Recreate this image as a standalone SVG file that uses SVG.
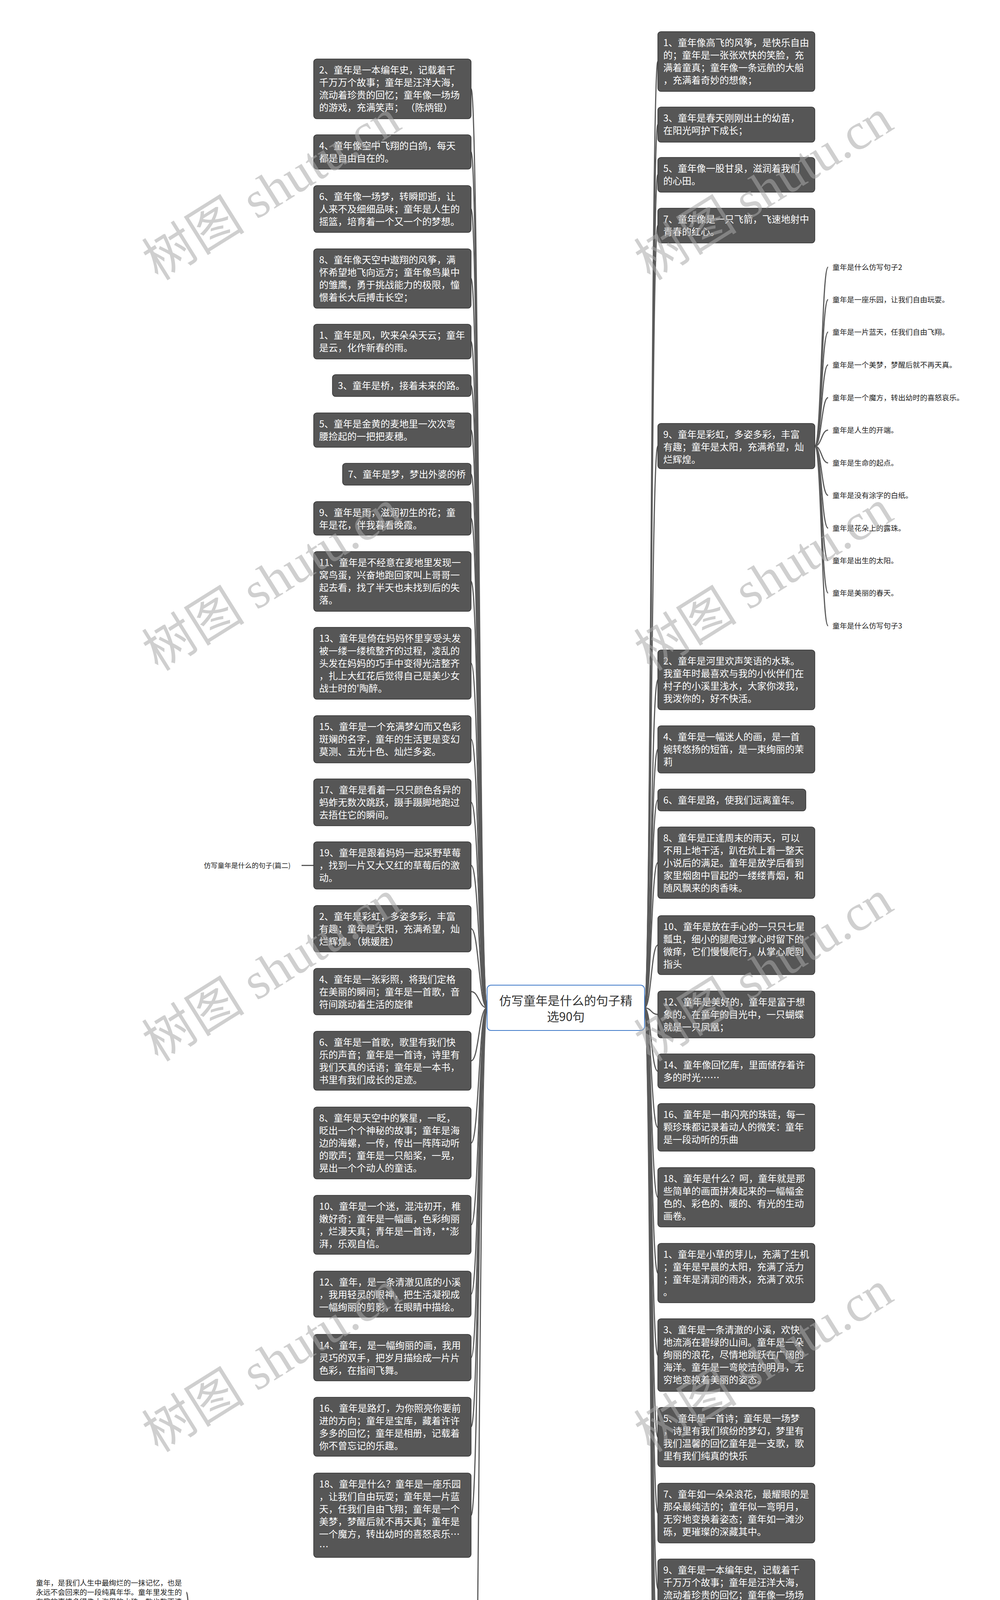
<svg xmlns="http://www.w3.org/2000/svg" width="2560" height="5919" viewBox="0 0 2560 5919">
<style>
.bg{fill:#ffffff}
.n{fill:#565656;stroke:#2f2f2f;stroke-width:1.5}
.t{font-family:"Noto Sans CJK SC","Liberation Sans",sans-serif;font-size:24px;fill:#ffffff}
.s{font-family:"Noto Sans CJK SC","Liberation Sans",sans-serif;font-size:18.7px;fill:#222222}
.lb{font-family:"Noto Sans CJK SC","Liberation Sans",sans-serif;font-size:17.5px;fill:#222222}
.c{fill:none;stroke:#5a5a5a;stroke-width:3}
.ct{font-family:"Noto Sans CJK SC","Liberation Sans",sans-serif;font-size:31px;fill:#333333;text-anchor:middle}
.w{font-family:"Liberation Serif","Noto Sans CJK SC",serif;font-size:132px;fill:#a8a8a8;opacity:0.55}
</style>
<rect class="bg" x="0" y="0" width="2560" height="5919"/>

<g id="connectors">
<!-- center to left nodes -->
<path class="c" d="M1247 2580 C1226 2580 1226 227.5 1206 227.5"/>
<path class="c" d="M1247 2580 C1226 2580 1226 389 1206 389"/>
<path class="c" d="M1247 2580 C1226 2580 1226 535 1206 535"/>
<path class="c" d="M1247 2580 C1226 2580 1226 713 1206 713"/>
<path class="c" d="M1247 2580 C1226 2580 1226 874.5 1206 874.5"/>
<path class="c" d="M1247 2580 C1226 2580 1226 987 1206 987"/>
<path class="c" d="M1247 2580 C1226 2580 1226 1101 1206 1101"/>
<path class="c" d="M1247 2580 C1226 2580 1226 1214 1206 1214"/>
<path class="c" d="M1247 2580 C1226 2580 1226 1327 1206 1327"/>
<path class="c" d="M1247 2580 C1226 2580 1226 1488.5 1206 1488.5"/>
<path class="c" d="M1247 2580 C1226 2580 1226 1698 1206 1698"/>
<path class="c" d="M1247 2580 C1226 2580 1226 1892.5 1206 1892.5"/>
<path class="c" d="M1247 2580 C1226 2580 1226 2054 1206 2054"/>
<path class="c" d="M1247 2580 C1226 2580 1226 2215.5 1206 2215.5"/>
<path class="c" d="M1247 2580 C1226 2580 1226 2377.5 1206 2377.5"/>
<path class="c" d="M1247 2580 C1226 2580 1226 2538.5 1206 2538.5"/>
<path class="c" d="M1247 2580 C1226 2580 1226 2715.5 1206 2715.5"/>
<path class="c" d="M1247 2580 C1226 2580 1226 2926 1206 2926"/>
<path class="c" d="M1247 2580 C1226 2580 1226 3135.5 1206 3135.5"/>
<path class="c" d="M1247 2580 C1226 2580 1226 3313 1206 3313"/>
<path class="c" d="M1247 2580 C1226 2580 1226 3475.5 1206 3475.5"/>
<path class="c" d="M1247 2580 C1226 2580 1226 3652.5 1206 3652.5"/>
<path class="c" d="M1247 2580 C1226 2580 1226 3879 1206 3879"/>
<path class="c" d="M1247 2580 C1226 2580 1226 4933.5 1206 4933.5"/>
<!-- center to right nodes -->
<path class="c" d="M1650 2580 C1667 2580 1667 157.5 1684 157.5"/>
<path class="c" d="M1650 2580 C1667 2580 1667 319 1684 319"/>
<path class="c" d="M1650 2580 C1667 2580 1667 447.5 1684 447.5"/>
<path class="c" d="M1650 2580 C1667 2580 1667 577.5 1684 577.5"/>
<path class="c" d="M1650 2580 C1667 2580 1667 1142 1684 1142"/>
<path class="c" d="M1650 2580 C1667 2580 1667 1740.5 1684 1740.5"/>
<path class="c" d="M1650 2580 C1667 2580 1667 1918.5 1684 1918.5"/>
<path class="c" d="M1650 2580 C1667 2580 1667 2048 1684 2048"/>
<path class="c" d="M1650 2580 C1667 2580 1667 2208.5 1684 2208.5"/>
<path class="c" d="M1650 2580 C1667 2580 1667 2419.5 1684 2419.5"/>
<path class="c" d="M1650 2580 C1667 2580 1667 2597 1684 2597"/>
<path class="c" d="M1650 2580 C1667 2580 1667 2742 1684 2742"/>
<path class="c" d="M1650 2580 C1667 2580 1667 2886 1684 2886"/>
<path class="c" d="M1650 2580 C1667 2580 1667 3065 1684 3065"/>
<path class="c" d="M1650 2580 C1667 2580 1667 3259 1684 3259"/>
<path class="c" d="M1650 2580 C1667 2580 1667 3469 1684 3469"/>
<path class="c" d="M1650 2580 C1667 2580 1667 3679 1684 3679"/>
<path class="c" d="M1650 2580 C1667 2580 1667 3873.5 1684 3873.5"/>
<path class="c" d="M1650 2580 C1667 2580 1667 4067 1684 4067"/>
<path class="c" d="M1650 2580 C1667 2580 1667 4245 1684 4245"/>
<path class="c" d="M1650 2580 C1667 2580 1667 4422.5 1684 4422.5"/>
<path class="c" d="M1650 2580 C1667 2580 1667 4584.5 1684 4584.5"/>
<path class="c" d="M1650 2580 C1667 2580 1667 4745.5 1684 4745.5"/>
<path class="c" d="M1650 2580 C1667 2580 1667 4970.5 1684 4970.5"/>
<!-- right node 9 to sub items -->
<path class="c" d="M2086 1142 C2103 1142 2103 684 2120 684"/>
<path class="c" d="M2086 1142 C2103 1142 2103 767 2120 767"/>
<path class="c" d="M2086 1142 C2103 1142 2103 850 2120 850"/>
<path class="c" d="M2086 1142 C2103 1142 2103 934 2120 934"/>
<path class="c" d="M2086 1142 C2103 1142 2103 1018 2120 1018"/>
<path class="c" d="M2086 1142 C2103 1142 2103 1101 2120 1101"/>
<path class="c" d="M2086 1142 C2103 1142 2103 1185 2120 1185"/>
<path class="c" d="M2086 1142 C2103 1142 2103 1268 2120 1268"/>
<path class="c" d="M2086 1142 C2103 1142 2103 1352 2120 1352"/>
<path class="c" d="M2086 1142 C2103 1142 2103 1435 2120 1435"/>
<path class="c" d="M2086 1142 C2103 1142 2103 1518 2120 1518"/>
<path class="c" d="M2086 1142 C2103 1142 2103 1602 2120 1602"/>
<!-- labels -->
<path class="c" d="M772 2215.5 L803 2215.5"/>
<path class="c" d="M772 4933.5 L804 4933.5"/>
<!-- label 篇三 to far-left items -->
<path class="c" d="M510 4935 C493 4935 493 4076 477 4076"/>
<path class="c" d="M510 4935 C493 4935 493 4220 477 4220"/>
<path class="c" d="M510 4935 C493 4935 493 4399 477 4399"/>
<path class="c" d="M510 4935 C493 4935 493 4579 477 4579"/>
<path class="c" d="M510 4935 C493 4935 493 4723 477 4723"/>
<path class="c" d="M510 4935 C493 4935 493 4855 477 4855"/>
<path class="c" d="M510 4935 C493 4935 493 4989 477 4989"/>
<path class="c" d="M510 4935 C493 4935 493 5132 477 5132"/>
<path class="c" d="M510 4935 C493 4935 493 5301 477 5301"/>
<path class="c" d="M510 4935 C493 4935 493 5482 477 5482"/>
<path class="c" d="M510 4935 C493 4935 493 5651 477 5651"/>
<path class="c" d="M510 4935 C493 4935 493 5795 477 5795"/>
</g>

<g id="center">
<rect x="1247" y="2522" width="403" height="116" rx="10" fill="#ffffff" stroke="#3d78c8" stroke-width="2"/>
<text class="ct" x="1448.5" y="2573">仿写童年是什么的句子精</text>
<text class="ct" x="1448.5" y="2614">选90句</text>
</g>

<!-- left column -->
<g id="L1"><rect class="n" x="803" y="151" width="403" height="153" rx="8"/>
<text class="t"><tspan x="817" y="188">2、童年是一本编年史，记载着千</tspan><tspan x="817" y="220">千万万个故事；童年是汪洋大海，</tspan><tspan x="817" y="252">流动着珍贵的回忆；童年像一场场</tspan><tspan x="817" y="284">的游戏，充满笑声；  （陈炳锟）</tspan></text></g>
<g id="L2"><rect class="n" x="803" y="345" width="403" height="88" rx="8"/>
<text class="t"><tspan x="817" y="382">4、童年像空中飞翔的白鸽，每天</tspan><tspan x="817" y="414">都是自由自在的。</tspan></text></g>
<g id="L3"><rect class="n" x="803" y="475" width="403" height="120" rx="8"/>
<text class="t"><tspan x="817" y="512">6、童年像一场梦，转瞬即逝，让</tspan><tspan x="817" y="544">人来不及细细品味；童年是人生的</tspan><tspan x="817" y="576">摇篮，培育着一个又一个的梦想。</tspan></text></g>
<g id="L4"><rect class="n" x="803" y="637" width="403" height="152" rx="8"/>
<text class="t"><tspan x="817" y="674">8、童年像天空中遨翔的风筝，满</tspan><tspan x="817" y="706">怀希望地飞向远方；童年像鸟巢中</tspan><tspan x="817" y="738">的雏鹰，勇于挑战能力的极限，憧</tspan><tspan x="817" y="770">憬着长大后搏击长空；</tspan></text></g>
<g id="L5"><rect class="n" x="803" y="830" width="403" height="89" rx="8"/>
<text class="t"><tspan x="817" y="867">1、童年是风，吹来朵朵天云；童年</tspan><tspan x="817" y="899">是云，化作新春的雨。</tspan></text></g>
<g id="L6"><rect class="n" x="851" y="959" width="355" height="56" rx="8"/>
<text class="t"><tspan x="865" y="996">3、童年是桥，接着未来的路。</tspan></text></g>
<g id="L7"><rect class="n" x="803" y="1057" width="403" height="88" rx="8"/>
<text class="t"><tspan x="817" y="1094">5、童年是金黄的麦地里一次次弯</tspan><tspan x="817" y="1126">腰捡起的一把把麦穗。</tspan></text></g>
<g id="L8"><rect class="n" x="877" y="1186" width="329" height="56" rx="8"/>
<text class="t"><tspan x="891" y="1223">7、童年是梦，梦出外婆的桥</tspan></text></g>
<g id="L9"><rect class="n" x="803" y="1284" width="403" height="86" rx="8"/>
<text class="t"><tspan x="817" y="1321">9、童年是雨，滋润初生的花；童</tspan><tspan x="817" y="1353">年是花，伴我暮看晚霞。</tspan></text></g>
<g id="L10"><rect class="n" x="803" y="1412" width="403" height="153" rx="8"/>
<text class="t"><tspan x="817" y="1449">11、童年是不经意在麦地里发现一</tspan><tspan x="817" y="1481">窝鸟蛋，兴奋地跑回家叫上哥哥一</tspan><tspan x="817" y="1513">起去看，找了半天也未找到后的失</tspan><tspan x="817" y="1545">落。</tspan></text></g>
<g id="L11"><rect class="n" x="803" y="1606" width="403" height="184" rx="8"/>
<text class="t"><tspan x="817" y="1643">13、童年是倚在妈妈怀里享受头发</tspan><tspan x="817" y="1675">被一缕一缕梳整齐的过程，凌乱的</tspan><tspan x="817" y="1707">头发在妈妈的巧手中变得光洁整齐</tspan><tspan x="817" y="1739">，扎上大红花后觉得自己是美少女</tspan><tspan x="817" y="1771">战士时的'陶醉。</tspan></text></g>
<g id="L12"><rect class="n" x="803" y="1832" width="403" height="121" rx="8"/>
<text class="t"><tspan x="817" y="1869">15、童年是一个充满梦幻而又色彩</tspan><tspan x="817" y="1901">斑斓的名字，童年的生活更是变幻</tspan><tspan x="817" y="1933">莫测、五光十色、灿烂多姿。</tspan></text></g>
<g id="L13"><rect class="n" x="803" y="1994" width="403" height="120" rx="8"/>
<text class="t"><tspan x="817" y="2031">17、童年是看着一只只颜色各异的</tspan><tspan x="817" y="2063">蚂蚱无数次跳跃，蹑手蹑脚地跑过</tspan><tspan x="817" y="2095">去捂住它的瞬间。</tspan></text></g>
<g id="L14"><rect class="n" x="803" y="2155" width="403" height="121" rx="8"/>
<text class="t"><tspan x="817" y="2192">19、童年是跟着妈妈一起采野草莓</tspan><tspan x="817" y="2224">，找到一片又大又红的草莓后的激</tspan><tspan x="817" y="2256">动。</tspan></text></g>
<g id="L15"><rect class="n" x="803" y="2318" width="403" height="119" rx="8"/>
<text class="t"><tspan x="817" y="2355">2、童年是彩虹，多姿多彩，丰富</tspan><tspan x="817" y="2387">有趣；童年是太阳，充满希望，灿</tspan><tspan x="817" y="2419">烂辉煌。（姚媛胜）</tspan></text></g>
<g id="L16"><rect class="n" x="803" y="2479" width="403" height="119" rx="8"/>
<text class="t"><tspan x="817" y="2516">4、童年是一张彩照，将我们定格</tspan><tspan x="817" y="2548">在美丽的瞬间；童年是一首歌，音</tspan><tspan x="817" y="2580">符间跳动着生活的旋律</tspan></text></g>
<g id="L17"><rect class="n" x="803" y="2640" width="403" height="151" rx="8"/>
<text class="t"><tspan x="817" y="2677">6、童年是一首歌，歌里有我们快</tspan><tspan x="817" y="2709">乐的声音；童年是一首诗，诗里有</tspan><tspan x="817" y="2741">我们天真的话语；童年是一本书，</tspan><tspan x="817" y="2773">书里有我们成长的足迹。</tspan></text></g>
<g id="L18"><rect class="n" x="803" y="2834" width="403" height="184" rx="8"/>
<text class="t"><tspan x="817" y="2871">8、童年是天空中的繁星，一眨，</tspan><tspan x="817" y="2903">眨出一个个神秘的故事；童年是海</tspan><tspan x="817" y="2935">边的海螺，一传，传出一阵阵动听</tspan><tspan x="817" y="2967">的歌声；童年是一只船桨，一晃，</tspan><tspan x="817" y="2999">晃出一个个动人的童话。</tspan></text></g>
<g id="L19"><rect class="n" x="803" y="3060" width="403" height="151" rx="8"/>
<text class="t"><tspan x="817" y="3097">10、童年是一个迷，混沌初开，稚</tspan><tspan x="817" y="3129">嫩好奇；童年是一幅画，色彩绚丽</tspan><tspan x="817" y="3161">，烂漫天真；青年是一首诗，**澎</tspan><tspan x="817" y="3193">湃，乐观自信。</tspan></text></g>
<g id="L20"><rect class="n" x="803" y="3254" width="403" height="118" rx="8"/>
<text class="t"><tspan x="817" y="3291">12、童年，是一条清澈见底的小溪</tspan><tspan x="817" y="3323">，我用轻灵的眼神，把生活凝视成</tspan><tspan x="817" y="3355">一幅绚丽的剪影，在眼睛中描绘。</tspan></text></g>
<g id="L21"><rect class="n" x="803" y="3416" width="403" height="119" rx="8"/>
<text class="t"><tspan x="817" y="3453">14、童年，是一幅绚丽的画，我用</tspan><tspan x="817" y="3485">灵巧的双手，把岁月描绘成一片片</tspan><tspan x="817" y="3517">色彩，在指间飞舞。</tspan></text></g>
<g id="L22"><rect class="n" x="803" y="3577" width="403" height="151" rx="8"/>
<text class="t"><tspan x="817" y="3614">16、童年是路灯，为你照亮你要前</tspan><tspan x="817" y="3646">进的方向；童年是宝库，藏着许许</tspan><tspan x="817" y="3678">多多的回忆；童年是相册，记载着</tspan><tspan x="817" y="3710">你不曾忘记的乐趣。</tspan></text></g>
<g id="L23"><rect class="n" x="803" y="3771" width="403" height="216" rx="8"/>
<text class="t"><tspan x="817" y="3808">18、童年是什么？童年是一座乐园</tspan><tspan x="817" y="3840">，让我们自由玩耍；童年是一片蓝</tspan><tspan x="817" y="3872">天，任我们自由飞翔；童年是一个</tspan><tspan x="817" y="3904">美梦，梦醒后就不再天真；童年是</tspan><tspan x="817" y="3936">一个魔方，转出幼时的喜怒哀乐…</tspan><tspan x="817" y="3968">…</tspan></text></g>
<g id="L24"><rect class="n" x="804" y="4841" width="402" height="185" rx="8"/>
<text class="t"><tspan x="818" y="4878">20、童年是什么？是一支笔，一支</tspan><tspan x="818" y="4910">色彩丰富的笔；是一首歌，一首焕</tspan><tspan x="818" y="4942">发向上的歌；是一股泉，一股清澈</tspan><tspan x="818" y="4974">透亮的泉；童年，更是一朵花，一</tspan><tspan x="818" y="5006">朵多姿多彩的花。</tspan></text></g>

<!-- right column -->
<g id="R1"><rect class="n" x="1684" y="81" width="402" height="153" rx="8"/>
<text class="t"><tspan x="1698" y="118">1、童年像高飞的风筝，是快乐自由</tspan><tspan x="1698" y="150">的；童年是一张张欢快的笑脸，充</tspan><tspan x="1698" y="182">满着童真；童年像一条远航的大船</tspan><tspan x="1698" y="214">，充满着奇妙的想像；</tspan></text></g>
<g id="R2"><rect class="n" x="1684" y="274" width="402" height="90" rx="8"/>
<text class="t"><tspan x="1698" y="311">3、童年是春天刚刚出土的幼苗，</tspan><tspan x="1698" y="343">在阳光呵护下成长；</tspan></text></g>
<g id="R3"><rect class="n" x="1684" y="403" width="402" height="89" rx="8"/>
<text class="t"><tspan x="1698" y="440">5、童年像一股甘泉，滋润着我们</tspan><tspan x="1698" y="472">的心田。</tspan></text></g>
<g id="R4"><rect class="n" x="1684" y="533" width="402" height="89" rx="8"/>
<text class="t"><tspan x="1698" y="570">7、童年像是一只飞箭，飞速地射中</tspan><tspan x="1698" y="602">青春的红心。</tspan></text></g>
<g id="R5"><rect class="n" x="1684" y="1084" width="402" height="116" rx="8"/>
<text class="t"><tspan x="1698" y="1121">9、童年是彩虹，多姿多彩，丰富</tspan><tspan x="1698" y="1153">有趣；童年是太阳，充满希望，灿</tspan><tspan x="1698" y="1185">烂辉煌。</tspan></text></g>
<g id="R6"><rect class="n" x="1684" y="1664" width="402" height="153" rx="8"/>
<text class="t"><tspan x="1698" y="1701">2、童年是河里欢声笑语的水珠。</tspan><tspan x="1698" y="1733">我童年时最喜欢与我的小伙伴们在</tspan><tspan x="1698" y="1765">村子的小溪里浅水，大家你泼我，</tspan><tspan x="1698" y="1797">我泼你的，好不快活。</tspan></text></g>
<g id="R7"><rect class="n" x="1684" y="1858" width="402" height="121" rx="8"/>
<text class="t"><tspan x="1698" y="1895">4、童年是一幅迷人的画，是一首</tspan><tspan x="1698" y="1927">婉转悠扬的短笛，是一束绚丽的茉</tspan><tspan x="1698" y="1959">莉</tspan></text></g>
<g id="R8"><rect class="n" x="1684" y="2020" width="379" height="56" rx="8"/>
<text class="t"><tspan x="1698" y="2057">6、童年是路，使我们远离童年。</tspan></text></g>
<g id="R9"><rect class="n" x="1684" y="2117" width="402" height="183" rx="8"/>
<text class="t"><tspan x="1698" y="2154">8、童年是正逢周末的雨天，可以</tspan><tspan x="1698" y="2186">不用上地干活，趴在炕上看一整天</tspan><tspan x="1698" y="2218">小说后的满足。童年是放学后看到</tspan><tspan x="1698" y="2250">家里烟囱中冒起的一缕缕青烟，和</tspan><tspan x="1698" y="2282">随风飘来的肉香味。</tspan></text></g>
<g id="R10"><rect class="n" x="1684" y="2344" width="402" height="151" rx="8"/>
<text class="t"><tspan x="1698" y="2381">10、童年是放在手心的一只只七星</tspan><tspan x="1698" y="2413">瓢虫，细小的腿爬过掌心时留下的</tspan><tspan x="1698" y="2445">微痒，它们慢慢爬行，从掌心爬到</tspan><tspan x="1698" y="2477">指头</tspan></text></g>
<g id="R11"><rect class="n" x="1684" y="2537" width="402" height="120" rx="8"/>
<text class="t"><tspan x="1698" y="2574">12、童年是美好的，童年是富于想</tspan><tspan x="1698" y="2606">象的。在童年的目光中，一只蝴蝶</tspan><tspan x="1698" y="2638">就是一只凤凰；</tspan></text></g>
<g id="R12"><rect class="n" x="1684" y="2698" width="402" height="88" rx="8"/>
<text class="t"><tspan x="1698" y="2735">14、童年像回忆库，里面储存着许</tspan><tspan x="1698" y="2767">多的时光……</tspan></text></g>
<g id="R13"><rect class="n" x="1684" y="2825" width="402" height="122" rx="8"/>
<text class="t"><tspan x="1698" y="2862">16、童年是一串闪亮的珠链，每一</tspan><tspan x="1698" y="2894">颗珍珠都记录着动人的微笑：童年</tspan><tspan x="1698" y="2926">是一段动听的乐曲</tspan></text></g>
<g id="R14"><rect class="n" x="1684" y="2989" width="402" height="152" rx="8"/>
<text class="t"><tspan x="1698" y="3026">18、童年是什么？呵，童年就是那</tspan><tspan x="1698" y="3058">些简单的画面拼凑起来的一幅幅金</tspan><tspan x="1698" y="3090">色的、彩色的、暖的、有光的生动</tspan><tspan x="1698" y="3122">画卷。</tspan></text></g>
<g id="R15"><rect class="n" x="1684" y="3183" width="402" height="152" rx="8"/>
<text class="t"><tspan x="1698" y="3220">1、童年是小草的芽儿，充满了生机</tspan><tspan x="1698" y="3252">；童年是早晨的太阳，充满了活力</tspan><tspan x="1698" y="3284">；童年是清润的雨水，充满了欢乐</tspan><tspan x="1698" y="3316">。</tspan></text></g>
<g id="R16"><rect class="n" x="1684" y="3376" width="402" height="186" rx="8"/>
<text class="t"><tspan x="1698" y="3413">3、童年是一条清澈的小溪，欢快</tspan><tspan x="1698" y="3445">地流淌在碧绿的山间。童年是一朵</tspan><tspan x="1698" y="3477">绚丽的浪花，尽情地跳跃在广阔的</tspan><tspan x="1698" y="3509">海洋。童年是一弯皎洁的明月，无</tspan><tspan x="1698" y="3541">穷地变换着美丽的姿态。</tspan></text></g>
<g id="R17"><rect class="n" x="1684" y="3603" width="402" height="152" rx="8"/>
<text class="t"><tspan x="1698" y="3640">5、童年是一首诗；童年是一场梦</tspan><tspan x="1698" y="3672">，诗里有我们缤纷的梦幻，梦里有</tspan><tspan x="1698" y="3704">我们温馨的回忆童年是一支歌，歌</tspan><tspan x="1698" y="3736">里有我们纯真的快乐</tspan></text></g>
<g id="R18"><rect class="n" x="1684" y="3797" width="402" height="153" rx="8"/>
<text class="t"><tspan x="1698" y="3834">7、童年如一朵朵浪花，最耀眼的是</tspan><tspan x="1698" y="3866">那朵最纯洁的；童年似一弯明月，</tspan><tspan x="1698" y="3898">无穷地变换着姿态；童年如一滩沙</tspan><tspan x="1698" y="3930">砾，更璀璨的深藏其中。</tspan></text></g>
<g id="R19"><rect class="n" x="1684" y="3991" width="402" height="152" rx="8"/>
<text class="t"><tspan x="1698" y="4028">9、童年是一本编年史，记载着千</tspan><tspan x="1698" y="4060">千万万个故事；童年是汪洋大海，</tspan><tspan x="1698" y="4092">流动着珍贵的回忆；童年像一场场</tspan><tspan x="1698" y="4124">的游戏，充满笑声；  （陈炳锟）</tspan></text></g>
<g id="R20"><rect class="n" x="1684" y="4185" width="402" height="120" rx="8"/>
<text class="t"><tspan x="1698" y="4222">11、童年，是一首清新的歌，我用</tspan><tspan x="1698" y="4254">稚嫩的双手，把日子谱写成一串串</tspan><tspan x="1698" y="4286">音符，在指间跳跃。</tspan></text></g>
<g id="R21"><rect class="n" x="1684" y="4346" width="402" height="153" rx="8"/>
<text class="t"><tspan x="1698" y="4383">13、童年是记忆深处的一颗火种，</tspan><tspan x="1698" y="4415">童年是人生初始的一段阳光，童年</tspan><tspan x="1698" y="4447">是小巷深处的一首歌谣，童年是高</tspan><tspan x="1698" y="4479">远天空的一只纸鸢。</tspan></text></g>
<g id="R22"><rect class="n" x="1684" y="4540" width="402" height="89" rx="8"/>
<text class="t"><tspan x="1698" y="4577">15、童年像是一只飞箭，飞速地射</tspan><tspan x="1698" y="4609">中青春的红心。（郭思雨）</tspan></text></g>
<g id="R23"><rect class="n" x="1684" y="4669" width="402" height="153" rx="8"/>
<text class="t"><tspan x="1698" y="4706">17、童年是人生的开端，童年是生</tspan><tspan x="1698" y="4738">命的起点，童年是没有涂字的白纸</tspan><tspan x="1698" y="4770">，童年是花朵上的露珠，童年是出</tspan><tspan x="1698" y="4802">生的太阳，童年是美丽的春天。</tspan></text></g>
<g id="R24"><rect class="n" x="1684" y="4862" width="402" height="217" rx="8"/>
<text class="t"><tspan x="1698" y="4899">19、童年是小姑娘发稍的红头绳，</tspan><tspan x="1698" y="4931">童年是小姑娘头上的蝴蝶结，童年</tspan><tspan x="1698" y="4963">是小姑娘手中的牵牛花。童年是小</tspan><tspan x="1698" y="4995">伙子手中的泥娃娃，童年是小伙子</tspan><tspan x="1698" y="5027">心里的保国家，童年是小伙子还能</tspan><tspan x="1698" y="5059">光着小脚丫。</tspan></text></g>

<!-- far right sub items -->
<g id="S1"><text class="s" x="2131" y="691">童年是什么仿写句子2</text></g>
<g id="S2"><text class="s" x="2131" y="774">童年是一座乐园，让我们自由玩耍。</text></g>
<g id="S3"><text class="s" x="2131" y="857">童年是一片蓝天，任我们自由飞翔。</text></g>
<g id="S4"><text class="s" x="2131" y="941">童年是一个美梦，梦醒后就不再天真。</text></g>
<g id="S5"><text class="s" x="2131" y="1025">童年是一个魔方，转出幼时的喜怒哀乐。</text></g>
<g id="S6"><text class="s" x="2131" y="1108">童年是人生的开端。</text></g>
<g id="S7"><text class="s" x="2131" y="1192">童年是生命的起点。</text></g>
<g id="S8"><text class="s" x="2131" y="1275">童年是没有涂字的白纸。</text></g>
<g id="S9"><text class="s" x="2131" y="1359">童年是花朵上的露珠。</text></g>
<g id="S10"><text class="s" x="2131" y="1442">童年是出生的太阳。</text></g>
<g id="S11"><text class="s" x="2131" y="1525">童年是美丽的春天。</text></g>
<g id="S12"><text class="s" x="2131" y="1609">童年是什么仿写句子3</text></g>

<!-- labels -->
<g id="P2"><text class="lb" x="522" y="2221.5">仿写童年是什么的句子(篇二)</text></g>
<g id="P3"><text class="lb" x="522" y="4940">仿写童年是什么的句子(篇三)</text></g>

<!-- far left items -->
<g id="F1"><text class="s"><tspan x="92" y="4059">童年，是我们人生中最绚烂的一抹记忆，也是</tspan><tspan x="92" y="4083">永远不会回来的一段纯真年华。童年里发生的</tspan><tspan x="92" y="4107">有趣的事情多得像大海里的水珠，数也数不清</tspan></text></g>
<g id="F2"><text class="s"><tspan x="92" y="4191">童年，是春风中的一朵漂亮的小花，童年，是</tspan><tspan x="92" y="4215">银河中的一颗灿烂的星光。多少往事，回忆起</tspan><tspan x="92" y="4239">来更是觉得是那么的甜蜜，是那么的温馨。我</tspan><tspan x="92" y="4263">的童年就是在欢乐和幸福中度过的。</tspan></text></g>
<g id="F3"><text class="s"><tspan x="92" y="4346">童年，是一幅迷人的画，勾勒出我多少五颜六</tspan><tspan x="92" y="4370">色的故事;童年，是一支婉转悠扬地短笛，奏</tspan><tspan x="92" y="4394">出我多少美好幻想;童年，是一束绚丽的茉莉</tspan><tspan x="92" y="4418">，儿时的欢笑像茉莉般散发醉人的香味，朵朵</tspan><tspan x="92" y="4442">洁白的花瓣是一件件往事。童年，是难以忘怀</tspan><tspan x="92" y="4466">地，童年的每个瞬间都是精彩的。</tspan></text></g>
<g id="F4"><text class="s"><tspan x="92" y="4550">童年，是一方没有莠草、污秽的净土，是一片</tspan><tspan x="92" y="4574">无遮无拦明朗的天空。这里流淌的纯真与甜美</tspan><tspan x="92" y="4598">，总会使人产生难以忘怀的记忆。我童年的一</tspan><tspan x="92" y="4622">段往事，时常萦绕在我的脑海。</tspan></text></g>
<g id="F5"><text class="s"><tspan x="92" y="4706">童年是多姿多彩的，童年是五光十色的，童年</tspan><tspan x="92" y="4730">像打翻了的五味瓶，酸甜苦辣咸五味聚全。我</tspan><tspan x="92" y="4754">的童年里有一件最令我难忘的事，就是</tspan></text></g>
<g id="F6"><text class="s"><tspan x="92" y="4838">童年是一本书，记录我们的点点滴滴;童年是</tspan><tspan x="92" y="4862">一首歌，唱出我们的酸甜苦辣;童年是一幅画</tspan><tspan x="92" y="4886">，渲染出了我们五彩缤纷的故事。</tspan></text></g>
<g id="F7"><text class="s"><tspan x="92" y="4971">童年是一个宝匣，装着我们无穷无尽的乐事;</tspan><tspan x="92" y="4996">童年是美好的回忆。我的童年是五彩缤纷的，</tspan><tspan x="92" y="5021">在我的童年里流淌着纯真和甜美。</tspan></text></g>
<g id="F8"><text class="s"><tspan x="92" y="5102">童年是甜的，像一盒蜜。在一年级的数学课上</tspan><tspan x="92" y="5127">，老师发给同学们奥数卷，想看看我们的奥数</tspan><tspan x="92" y="5152">能力，当试卷发下来时，我考了91分，老师</tspan><tspan x="92" y="5177">当同学们的面表扬我，心里甜滋滋的。</tspan></text></g>
<g id="F9"><text class="s"><tspan x="92" y="5258">童年是苦的，像一碗中药。无论是放假还是平</tspan><tspan x="92" y="5283">时，父母总让我上各种各样的学习班，学英语</tspan><tspan x="92" y="5308">，学作文，练奥数，我的周末总是这么几样事</tspan><tspan x="92" y="5333">，反反复复，枯燥乏味，单调极了，没有属于</tspan><tspan x="92" y="5358">我自己的天空。</tspan></text></g>
<g id="F10"><text class="s"><tspan x="92" y="5439">童年，是一个缤纷的梦，带着欢歌，带着笑语</tspan><tspan x="92" y="5464">，徜徉在明媚的春天里;童年，是一首动听而</tspan><tspan x="92" y="5489">奔放的歌谣，载着梦想，载着希望，飞向未来</tspan><tspan x="92" y="5514">的天际;童年，是一本简单而有趣的书，而这</tspan><tspan x="92" y="5539">本书读着读着，就不禁让人发笑。</tspan></text></g>
<g id="F11"><text class="s"><tspan x="92" y="5621">童年是纯真、幼稚的故事串成的一条美丽的珠</tspan><tspan x="92" y="5646">链。在这串珠链中有着我五彩缤纷的童年。小</tspan><tspan x="92" y="5671">时候，幼小的我懂得不多，经常上当受骗，被</tspan><tspan x="92" y="5696">大人们骗。</tspan></text></g>
<g id="F12"><text class="s"><tspan x="92" y="5777">童年是七彩的，在每一个孩子的心里闪着耀眼</tspan><tspan x="92" y="5802">的光芒，是我陷入了童年的回忆。忽然我的脑</tspan><tspan x="92" y="5827">海里出现了童年的扫把兵。</tspan></text></g>

<!-- watermarks -->
<g id="watermarks">
<text class="w" x="405" y="720" transform="rotate(-32 405 720)">树图 shutu.cn</text>
<text class="w" x="405" y="1720" transform="rotate(-32 405 1720)">树图 shutu.cn</text>
<text class="w" x="405" y="2720" transform="rotate(-32 405 2720)">树图 shutu.cn</text>
<text class="w" x="405" y="3720" transform="rotate(-32 405 3720)">树图 shutu.cn</text>
<text class="w" x="405" y="4720" transform="rotate(-32 405 4720)">树图 shutu.cn</text>
<text class="w" x="405" y="5720" transform="rotate(-32 405 5720)">树图 shutu.cn</text>
<text class="w" x="1665" y="720" transform="rotate(-32 1665 720)">树图 shutu.cn</text>
<text class="w" x="1665" y="1720" transform="rotate(-32 1665 1720)">树图 shutu.cn</text>
<text class="w" x="1665" y="2720" transform="rotate(-32 1665 2720)">树图 shutu.cn</text>
<text class="w" x="1665" y="3720" transform="rotate(-32 1665 3720)">树图 shutu.cn</text>
<text class="w" x="1665" y="4720" transform="rotate(-32 1665 4720)">树图 shutu.cn</text>
<text class="w" x="1665" y="5720" transform="rotate(-32 1665 5720)">树图 shutu.cn</text>
</g>
</svg>
